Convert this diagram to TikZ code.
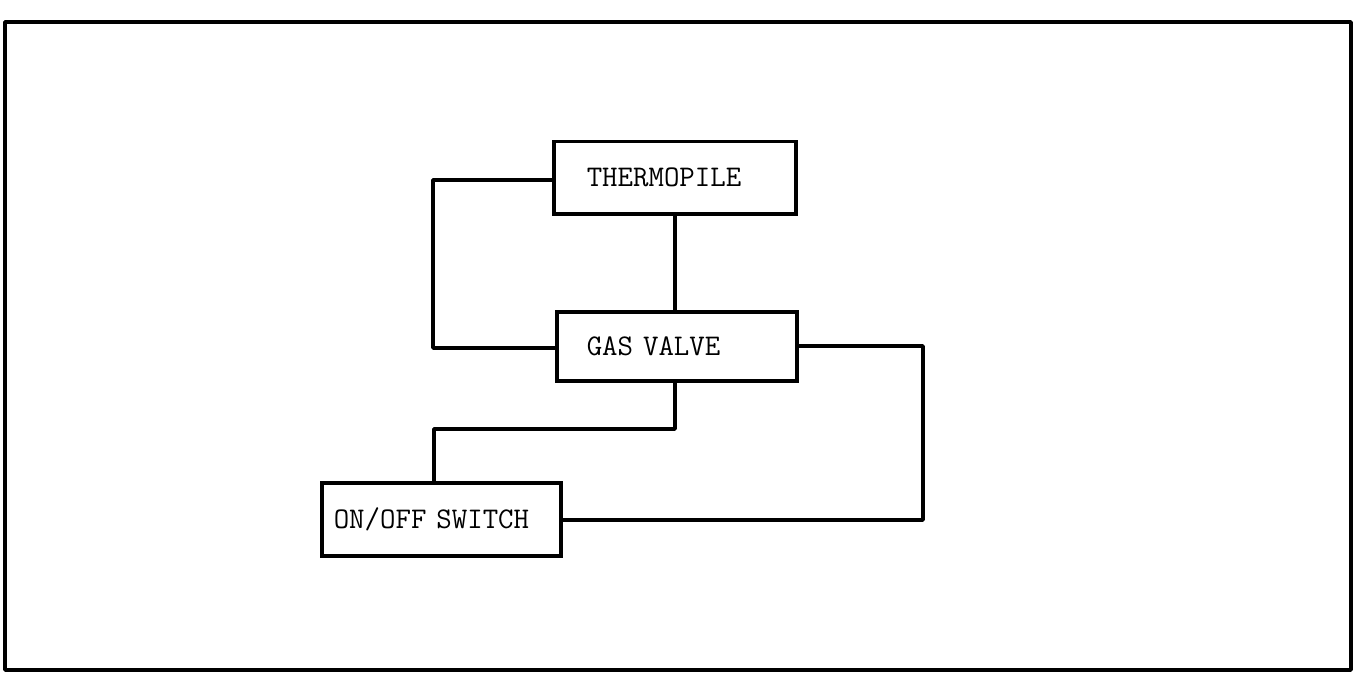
\documentclass[tikz,border=0pt]{standalone}
\usepackage{fontspec}
\begin{document}
\begin{tikzpicture}[x=1pt,y=-1pt,
  blk/.style={draw, line width=3.5pt, rectangle, font=\ttfamily\fontsize{30}{34}\selectfont,
    anchor=north west, inner sep=0pt, align=left},
  wire/.style={line width=3.5pt, line join=round}]
\useasboundingbox (0,0) rectangle (1358,682);
\draw[line width=3.5pt, line join=round] (5,22) rectangle (1351,670);
% boxes
\node[blk, minimum width=242pt, minimum height=72pt, text width=176pt] (thermo) at (552,140) {THERMOPILE};
\node[blk, minimum width=240pt, minimum height=69pt, text width=180pt] (gv) at (555,310) {GAS VALVE};
\node[blk, minimum width=239pt, minimum height=73pt, text width=215pt] (sw) at (320,481) {ON/OFF SWITCH};
% connectors
\coordinate (l1) at (433,180);
\coordinate (l2) at (433,348);
\draw[wire] (thermo.west |- l1) -- (l1) -- (l2) -- (gv.west |- l2);
\draw[wire] (675,212) coordinate (t1) -- (gv.north -| t1);
\coordinate (s1) at (675,429);
\coordinate (s2) at (434,429);
\draw[wire] (gv.south -| s1) -- (s1) -- (s2) -- (sw.north -| s2);
\coordinate (r1) at (923,346);
\coordinate (r2) at (923,520);
\draw[wire] (gv.east |- r1) -- (r1) -- (r2) -- (sw.east |- r2);
\end{tikzpicture}
\end{document}
